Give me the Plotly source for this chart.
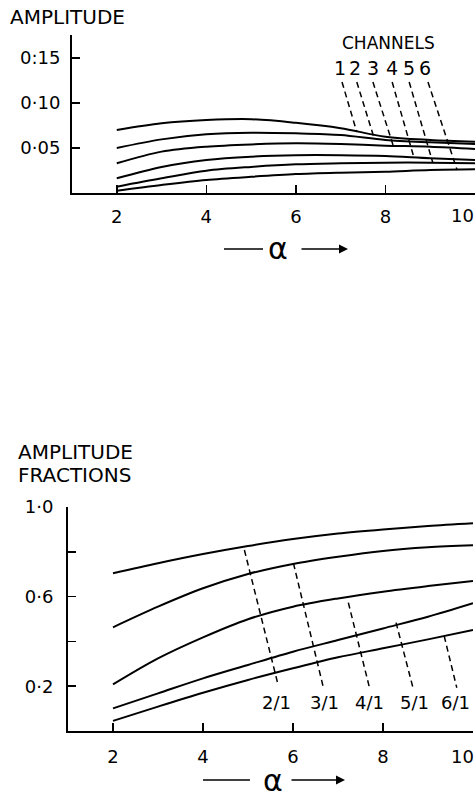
import plotly.graph_objects as go

W, H = 476, 806
FONT = "DejaVu Sans"

# ---------------- data: top panel (amplitude per channel) ----------------
alpha = [2, 3, 4, 5, 6, 7, 8, 9, 10]
ch1 = [0.070, 0.0774, 0.081, 0.082, 0.078, 0.072, 0.0626, 0.059, 0.057]
ch2 = [0.050, 0.0596, 0.0652, 0.067, 0.0663, 0.0644, 0.0589, 0.0563, 0.0544]
ch3 = [0.033, 0.046, 0.0515, 0.054, 0.0552, 0.0544, 0.0526, 0.0515, 0.049]
ch4 = [0.0163, 0.029, 0.0367, 0.0404, 0.042, 0.042, 0.041, 0.0385, 0.0367]
ch5 = [0.007, 0.0163, 0.0248, 0.029, 0.0319, 0.033, 0.0337, 0.0337, 0.033]
ch6 = [0.0026, 0.0089, 0.0144, 0.018, 0.021, 0.0226, 0.0237, 0.0256, 0.0263]
channels = [ch1, ch2, ch3, ch4, ch5, ch6]
channel_labels = ["1", "2", "3", "4", "5", "6"]
# leader lines (label end -> curve end)
ch_lead_x0 = [7.03, 7.36, 7.72, 8.15, 8.53, 8.95]
ch_lead_x1 = [7.36, 7.74, 8.17, 8.62, 9.06, 9.60]
ch_lead_y0 = 0.1233
ch_lead_y1 = [0.0678, 0.0622, 0.0533, 0.0422, 0.0333, 0.0256]
ch_label_x = [6.98, 7.32, 7.72, 8.15, 8.53, 8.88]
ch_label_y = 0.139

top_yticks = [0.05, 0.10, 0.15]
top_yticktext = ["0·05", "0·10", "0:15"]
xticks = [2, 4, 6, 8, 10]
xticktext = ["2", "4", "6", "8", ""]   # "10" is drawn as an edge-anchored label below
last_xtick_label = "10"

# ---------------- data: bottom panel (amplitude fractions) ----------------
fracA = [0.704, 0.749, 0.790, 0.826, 0.857, 0.882, 0.900, 0.915, 0.927]
fracB = [0.463, 0.555, 0.637, 0.701, 0.746, 0.778, 0.804, 0.820, 0.829]
fracC = [0.208, 0.324, 0.418, 0.499, 0.555, 0.592, 0.622, 0.647, 0.670]
fracD = [0.101, 0.168, 0.235, 0.295, 0.354, 0.406, 0.458, 0.510, 0.570]
fracE = [0.045, 0.109, 0.171, 0.228, 0.280, 0.329, 0.369, 0.409, 0.451]
fractions = [fracA, fracB, fracC, fracD, fracE]
ratio_labels = ["2/1", "3/1", "4/1", "5/1", "6/1"]
r_lead_x0 = [4.92, 6.01, 7.23, 8.29, 9.36]
r_lead_y0 = [0.808, 0.749, 0.573, 0.484, 0.424]
r_lead_x1 = [5.67, 6.67, 7.70, 8.66, 9.64]
r_lead_y1 = [0.205, 0.198, 0.193, 0.198, 0.193]
r_label_x = [5.64, 6.71, 7.71, 8.71, 9.60]
r_label_y = 0.126

bot_yticks = [0.2, 0.4, 0.6, 0.8, 1.0]
bot_yticktext = ["0·2", "", "0·6", "", "1·0"]

# ---------------- figure ----------------
fig = go.Figure()
for ys in channels:
    fig.add_trace(go.Scatter(x=alpha, y=ys, mode="lines", xaxis="x", yaxis="y",
                             line=dict(color="black", width=2, shape="spline", smoothing=0.9),
                             hoverinfo="skip"))
for x0, x1, y1 in zip(ch_lead_x0, ch_lead_x1, ch_lead_y1):
    fig.add_trace(go.Scatter(x=[x0, x1], y=[ch_lead_y0, y1], mode="lines", xaxis="x", yaxis="y",
                             line=dict(color="black", width=1.5, dash="6px,4px"), hoverinfo="skip"))
for ys in fractions:
    fig.add_trace(go.Scatter(x=alpha, y=ys, mode="lines", xaxis="x2", yaxis="y2",
                             line=dict(color="black", width=2, shape="spline", smoothing=0.9),
                             hoverinfo="skip"))
for x0, y0, x1, y1 in zip(r_lead_x0, r_lead_y0, r_lead_x1, r_lead_y1):
    fig.add_trace(go.Scatter(x=[x0, x1], y=[y0, y1], mode="lines", xaxis="x2", yaxis="y2",
                             line=dict(color="black", width=1.5, dash="6px,4px"), hoverinfo="skip"))

def px(x):
    return x / W

def py(y):
    return 1 - y / H

tickfont = dict(family=FONT, size=18, color="black")
axis_common = dict(showgrid=False, zeroline=False, showline=True, linecolor="black", linewidth=2,
                   ticks="inside", ticklen=8, tickwidth=1.5, tickcolor="black",
                   tickfont=tickfont, fixedrange=True, automargin=False)

fig.update_layout(
    width=W, height=H, margin=dict(l=0, r=0, t=0, b=0, autoexpand=False),
    paper_bgcolor="white", plot_bgcolor="white", showlegend=False,
    xaxis=dict(domain=[px(72), px(475)], range=[1, 10], anchor="y",
               tickvals=xticks, ticktext=xticktext, ticklabelstandoff=6, **axis_common),
    yaxis=dict(domain=[py(193), py(35)], range=[0, 0.1756], anchor="x",
               tickvals=top_yticks, ticktext=top_yticktext, ticklabelstandoff=6, **axis_common),
    xaxis2=dict(domain=[px(68), px(473)], range=[1, 10], anchor="y2",
                tickvals=xticks, ticktext=xticktext, ticklabelstandoff=8, **axis_common),
    yaxis2=dict(domain=[py(731), py(507)], range=[0, 1.0], anchor="x2",
                tickvals=bot_yticks, ticktext=bot_yticktext, ticklabelstandoff=9, **axis_common),
)

annots = []
lab_font = dict(family=FONT, size=20, color="black")
# titles
annots.append(dict(text="AMPLITUDE", x=px(8), y=py(17), xref="paper", yref="paper",
                   xanchor="left", yanchor="middle", showarrow=False, font=lab_font))
annots.append(dict(text="AMPLITUDE", x=px(16), y=py(452), xref="paper", yref="paper",
                   xanchor="left", yanchor="middle", showarrow=False, font=lab_font))
annots.append(dict(text="FRACTIONS", x=px(16), y=py(475), xref="paper", yref="paper",
                   xanchor="left", yanchor="middle", showarrow=False, font=lab_font))
# last x tick label, kept inside the page at the right edge
for yy in (216, 756):
    annots.append(dict(text=last_xtick_label, x=1.0, y=py(yy), xref="paper", yref="paper",
                       xanchor="right", yanchor="middle", showarrow=False, font=tickfont))
# channel labels
annots.append(dict(text="CHANNELS", x=8.06, y=0.167, xref="x", yref="y", showarrow=False,
                   xanchor="center", yanchor="middle", font=dict(family=FONT, size=17, color="black")))
for lx, lt in zip(ch_label_x, channel_labels):
    annots.append(dict(text=lt, x=lx, y=ch_label_y, xref="x", yref="y", showarrow=False,
                       xanchor="center", yanchor="middle", font=dict(family=FONT, size=19, color="black")))
for lx, lt in zip(r_label_x, ratio_labels):
    annots.append(dict(text=lt, x=lx, y=r_label_y, xref="x2", yref="y2", showarrow=False,
                       xanchor="center", yanchor="middle", font=dict(family=FONT, size=18, color="black")))

# alpha axis labels with arrows
shapes = []
for (l0, l1, ly, acx, acy, r0, r1) in [(224, 263, 249, 278, 249, 300, 348),
                                       (203, 250, 780, 273, 780, 290, 345)]:
    shapes.append(dict(type="line", xref="paper", yref="paper", x0=px(l0), x1=px(l1),
                       y0=py(ly), y1=py(ly), line=dict(color="black", width=1.5)))
    annots.append(dict(text="α", x=px(acx), y=py(acy), xref="paper", yref="paper",
                       showarrow=False, xanchor="center", yanchor="middle",
                       font=dict(family=FONT, size=30, color="black")))
    annots.append(dict(text="", x=px(r1), y=py(ly), xref="paper", yref="paper",
                       showarrow=True, arrowhead=2, arrowsize=1.2, arrowwidth=1.5,
                       arrowcolor="black", ax=-(r1 - r0), ay=0))

fig.update_layout(annotations=annots, shapes=shapes)
fig.write_html("out.html", config={"displayModeBar": False, "staticPlot": True},
               post_script="document.body.style.margin='0';document.body.style.overflow='hidden';")
